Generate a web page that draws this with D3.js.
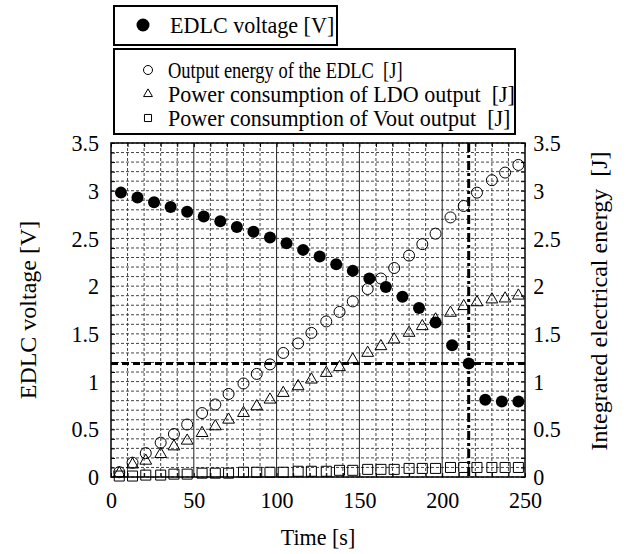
<!DOCTYPE html>
<html>
<head>
<meta charset="utf-8">
<script src="https://cdn.jsdelivr.net/npm/d3@7"></script>
<style>
  body { margin: 0; background: #fff; }
</style>
</head>
<body>
<div id="chart"></div>
<script>
// EDLC discharge chart //

// voltage samples (every 10 s)
const timeV = [6, 16, 26, 36, 46, 56, 66, 76, 86, 96, 106, 116, 126, 136, 146, 156, 166, 176, 186, 196, 206, 216, 226, 236, 246];
const edlcVoltage = [2.98, 2.93, 2.88, 2.83, 2.78, 2.73, 2.68, 2.62, 2.57, 2.51, 2.45, 2.38, 2.31, 2.23, 2.16, 2.08, 1.99, 1.89, 1.77, 1.62, 1.38, 1.19, 0.81, 0.79, 0.79];

// energy samples
const timeE = [5, 13, 21, 30, 38, 46, 55, 63, 71, 80, 88, 96, 104, 113, 121, 130, 138, 146, 155, 163, 171, 180, 188, 196, 205, 213, 221, 230, 238, 246];
const outputEnergy = [0.05, 0.15, 0.25, 0.36, 0.45, 0.55, 0.67, 0.76, 0.87, 0.98, 1.08, 1.18, 1.30, 1.40, 1.51, 1.63, 1.73, 1.84, 1.97, 2.08, 2.19, 2.32, 2.44, 2.55, 2.72, 2.84, 2.98, 3.11, 3.19, 3.27];
const ldoEnergy = [0.04, 0.13, 0.17, 0.24, 0.32, 0.38, 0.46, 0.53, 0.60, 0.67, 0.74, 0.81, 0.88, 0.95, 1.02, 1.09, 1.15, 1.23, 1.30, 1.37, 1.44, 1.51, 1.58, 1.65, 1.72, 1.79, 1.83, 1.86, 1.87, 1.90];
const voutEnergy = [0.01, 0.01, 0.02, 0.02, 0.03, 0.03, 0.04, 0.04, 0.04, 0.05, 0.05, 0.05, 0.05, 0.06, 0.06, 0.06, 0.07, 0.07, 0.08, 0.08, 0.08, 0.09, 0.09, 0.09, 0.10, 0.10, 0.10, 0.10, 0.10, 0.10];

// reference lines
const cutoffVoltage = 1.19;
const cutoffTime = 216;

// ticks
const xTicks = [0, 50, 100, 150, 200, 250];
const yTicks = [0, 0.5, 1, 1.5, 2, 2.5, 3, 3.5];

const legendTop = ["EDLC voltage [V]"];
const legendBottom = ["Output energy of the EDLC  [J]", "Power consumption of LDO output  [J]", "Power consumption of Vout output  [J]"];

// set the dimensions and margins of the graph
const margin = { top: 143, bottom: 77, right: 102, left: 111 };
const width = 627 - margin.left - margin.right;
const height = 554 - margin.top - margin.bottom;
const squish = 0.92; // text in the picture is a bit narrow
const serif = "'Liberation Serif', 'Times New Roman', serif";

const svg = d3
    .select("#chart")
    .append("svg")
    .attr("width", 627)
    .attr("height", 554);

const g = svg.append("g").attr("transform", `translate(${margin.left},${margin.top})`);

const x = d3.scaleLinear().domain([0, 250]).range([0, width]);
const y = d3.scaleLinear().domain([0, 3.5]).range([height, 0]);
const y2 = d3.scaleLinear().domain([0, 3.5]).range([height, 0]);

// grid
g.append("g")
    .selectAll("line")
    .data(d3.range(0, 3.51, 0.1))
    .join("line")
    .attr("x1", 0).attr("x2", width)
    .attr("y1", (d) => y(d)).attr("y2", (d) => y(d))
    .attr("stroke", "#444")
    .attr("stroke-dasharray", "3,2");

g.append("g")
    .selectAll("line")
    .data(d3.range(10, 250, 10).filter((d) => d % 50 !== 0))
    .join("line")
    .attr("x1", (d) => x(d)).attr("x2", (d) => x(d))
    .attr("y1", 0).attr("y2", height)
    .attr("stroke", "#444")
    .attr("stroke-dasharray", "3,2");

g.append("g")
    .selectAll("line")
    .data([50, 100, 150, 200])
    .join("line")
    .attr("x1", (d) => x(d)).attr("x2", (d) => x(d))
    .attr("y1", 0).attr("y2", height)
    .attr("stroke", "#222");

// axes (inner ticks on all four sides)
const fmt = d3.format("~g");
const minorX = d3.range(0, 251, 10);
const minorY = d3.range(0, 3.51, 0.1);

g.append("g").attr("transform", `translate(0,${height})`)
    .call(d3.axisTop(x).tickValues(minorX).tickFormat("").tickSize(4));
g.append("g")
    .call(d3.axisBottom(x).tickValues(minorX).tickFormat("").tickSize(4));
g.append("g")
    .call(d3.axisRight(y).tickValues(minorY).tickFormat("").tickSize(4));
g.append("g").attr("transform", `translate(${width},0)`)
    .call(d3.axisLeft(y2).tickValues(minorY).tickFormat("").tickSize(4));

const xAxis = g.append("g")
    .attr("transform", `translate(0,${height})`)
    .call(d3.axisBottom(x).tickValues(xTicks).tickFormat(fmt).tickSize(0).tickPadding(14));

const yAxis = g.append("g")
    .call(d3.axisLeft(y).tickValues(yTicks).tickFormat(fmt).tickSize(0).tickPadding(13));

const yAxis2 = g.append("g")
    .attr("transform", `translate(${width},0)`)
    .call(d3.axisRight(y2).tickValues(yTicks).tickFormat(fmt).tickSize(0).tickPadding(9));

g.selectAll(".domain").remove();
[xAxis, yAxis, yAxis2].forEach((a) => {
    a.selectAll("text")
        .style("font-family", serif)
        .style("font-size", "24px")
        .attr("fill", "#000")
        .attr("transform", `scale(${squish},1)`);
});

// frame
g.append("rect")
    .attr("width", width)
    .attr("height", height)
    .attr("fill", "none")
    .attr("stroke", "#000")
    .attr("stroke-width", 1.5);

// dashed cut-off lines
g.append("line")
    .attr("x1", 0).attr("x2", width)
    .attr("y1", y(cutoffVoltage)).attr("y2", y(cutoffVoltage))
    .attr("stroke", "#000")
    .attr("stroke-width", 3)
    .attr("stroke-dasharray", "7,4");

g.append("line")
    .attr("x1", x(cutoffTime)).attr("x2", x(cutoffTime))
    .attr("y1", 0).attr("y2", height)
    .attr("stroke", "#000")
    .attr("stroke-width", 3)
    .attr("stroke-dasharray", "9,3,3,3");

// markers
const tri = d3.symbol().type(d3.symbolTriangle).size(60);
const sq = d3.symbol().type(d3.symbolSquare).size(100);

g.append("g")
    .selectAll("path")
    .data(voutEnergy)
    .join("path")
    .attr("d", sq)
    .attr("transform", (d, i) => `translate(${x(timeE[i])},${y2(d)})`)
    .attr("fill", "none")
    .attr("stroke", "#000");

g.append("g")
    .selectAll("path")
    .data(ldoEnergy)
    .join("path")
    .attr("d", tri)
    .attr("transform", (d, i) => `translate(${x(timeE[i])},${y2(d)})`)
    .attr("fill", "none")
    .attr("stroke", "#000");

g.append("g")
    .selectAll("circle")
    .data(outputEnergy)
    .join("circle")
    .attr("cx", (d, i) => x(timeE[i]))
    .attr("cy", (d) => y2(d))
    .attr("r", 5.5)
    .attr("fill", "none")
    .attr("stroke", "#000");

g.append("g")
    .selectAll("circle")
    .data(edlcVoltage)
    .join("circle")
    .attr("cx", (d, i) => x(timeV[i]))
    .attr("cy", (d) => y(d))
    .attr("r", 6)
    .attr("fill", "#000");

// text helper, squeezed horizontally like the picture
function label(txt, px, py, rot, anchor) {
    return svg.append("text")
        .attr("transform", `translate(${px},${py}) scale(${squish},1)` + (rot ? ` rotate(${rot})` : ""))
        .attr("text-anchor", anchor || "middle")
        .style("font-family", serif)
        .style("font-size", "24px")
        .style("white-space", "pre")
        .text(txt);
}

// axis titles
label("Time [s]", margin.left + width / 2, 545);
label("EDLC voltage [V]", 36, margin.top + height / 2, -90);
label("Integrated electrical energy  [J]", 607, 301, -90);

// legends
svg.append("rect")
    .attr("x", 114).attr("y", 6).attr("width", 223).attr("height", 39)
    .attr("fill", "#fff").attr("stroke", "#000").attr("stroke-width", 2);
svg.append("circle").attr("cx", 143).attr("cy", 25).attr("r", 6.5).attr("fill", "#000");
label(legendTop[0], 170, 33, 0, "start");

svg.append("rect")
    .attr("x", 114).attr("y", 49).attr("width", 401).attr("height", 85)
    .attr("fill", "#fff").attr("stroke", "#000").attr("stroke-width", 2);

const legendSym = [
    (s) => s.append("circle").attr("r", 4.5),
    (s) => s.append("path").attr("d", d3.symbol().type(d3.symbolTriangle).size(34)),
    (s) => s.append("path").attr("d", d3.symbol().type(d3.symbolSquare).size(50))
];
legendBottom.forEach((txt, i) => {
    const cy = 70 + i * 24;
    const mk = svg.append("g").attr("transform", `translate(148,${cy})`);
    legendSym[i](mk).attr("fill", "none").attr("stroke", "#000");
    const t = label(txt, 168, cy + 8, 0, "start");
    // first line is set tighter in the picture
    if (i === 0) t.attr("textLength", 255).attr("lengthAdjust", "spacingAndGlyphs");
});
</script>
</body>
</html>
